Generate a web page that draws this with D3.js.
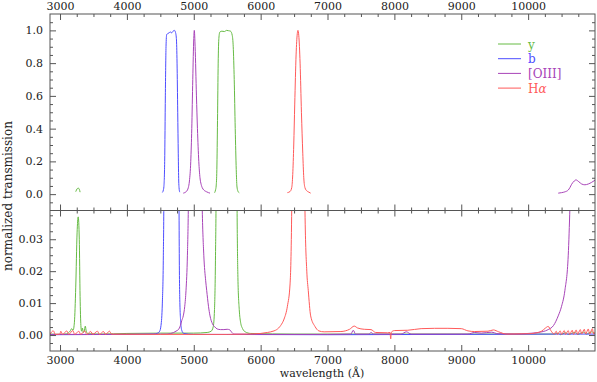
<!DOCTYPE html>
<html>
<head>
<meta charset="utf-8">
<script src="https://cdn.jsdelivr.net/npm/d3@7"></script>
<style>
body { margin: 0; background: #fff; }
text { font-family: "DejaVu Serif", serif; fill: #222; }
</style>
</head>
<body>
<svg width="597" height="382"></svg>
<script>
// filter curves, [wavelength (A), normalized transmission]
var filterNames = ["y", "b", "[OIII]", "Hα"];
var filterColors = ["#66bb44", "#4d4dff", "#a844b8", "#ff5a5a"];

var yFilter = [[2850,0.0003],[3000,0.0002],[3100,0.0004],[3150,0.0012],[3175,0.002],[3195,0.0015],
  [3215,0.004],[3235,0.015],[3255,0.032],[3272,0.037],[3288,0.03],[3300,0.012],[3312,0.003],
  [3322,0.0012],[3335,0.0022],[3348,0.0008],[3362,0.0012],[3378,0.0028],[3392,0.0012],[3420,0.0004],
  [3600,0.0003],[4000,0.0005],[4500,0.0006],[5000,0.0006],[5200,0.0008],[5260,0.0012],[5290,0.0025],
  [5310,0.008],[5325,0.025],[5335,0.05],[5345,0.15],[5355,0.45],[5365,0.8],[5375,0.95],[5390,0.99],
  [5420,0.995],[5460,0.993],[5490,1.0],[5520,0.998],[5550,0.995],[5575,0.97],[5590,0.9],[5605,0.7],
  [5620,0.4],[5635,0.15],[5645,0.05],[5660,0.018],[5680,0.008],[5700,0.004],[5730,0.002],[5770,0.001],
  [5850,0.0005],[6500,0.0003],[8000,0.0003],[9500,0.0003],[10400,0.0003],[10450,0.0006],[10480,0.0001],
  [10560,0.0007],[10600,0.0002],[10700,0.0008],[10740,0.0002],[10830,0.0009],[10870,0.0003],
  [10950,0.001],[11000,0.0004]];

var bFilter = [[2850,0.0001],[4000,0.0002],[4400,0.0003],[4460,0.0006],[4490,0.0012],[4510,0.003],
  [4530,0.01],[4545,0.025],[4553,0.045],[4565,0.2],[4575,0.6],[4585,0.9],[4595,0.975],[4610,0.98],
  [4630,0.985],[4650,0.99],[4670,0.985],[4690,0.995],[4710,1.0],[4725,0.99],[4740,0.95],[4750,0.8],
  [4760,0.5],[4768,0.25],[4775,0.08],[4780,0.039],[4790,0.012],[4805,0.004],[4820,0.0015],[4850,0.0005],
  [5000,0.0002],[7000,0.0001],[9000,0.0002],[10500,0.0003],[11000,0.0003]];

var oiiiFilter = [[2850,0.0002],[4000,0.0002],[4600,0.0003],[4700,0.0008],[4750,0.0014],[4770,0.0017],
  [4800,0.003],[4820,0.0045],[4843,0.006],[4865,0.009],[4884,0.014],[4905,0.025],[4918,0.039],
  [4935,0.08],[4955,0.2],[4970,0.4],[4985,0.7],[5000,0.95],[5008,1.0],[5020,0.9],[5040,0.6],[5055,0.4],
  [5075,0.2],[5093,0.1],[5110,0.06],[5127,0.039],[5150,0.025],[5178,0.017],[5193,0.014],[5220,0.009],
  [5243,0.006],[5280,0.0035],[5317,0.0025],[5350,0.0019],[5400,0.0017],[5450,0.0017],[5500,0.0018],
  [5540,0.0016],[5570,0.0008],[5600,0.0003],[6000,0.0002],[7000,0.0002],[7350,0.0003],[7385,0.0015],
  [7420,0.0003],[7620,0.0003],[7650,0.0008],[7690,0.0003],[8100,0.0003],[8180,0.001],[8250,0.0003],
  [9100,0.0003],[9200,0.0008],[9300,0.0006],[9450,0.0009],[9550,0.0004],[9800,0.0003],[10000,0.0005],
  [10150,0.0008],[10300,0.0017],[10380,0.003],[10450,0.006],[10500,0.009],[10550,0.014],[10600,0.025],
  [10625,0.04],[10650,0.06],[10690,0.08],[10714,0.087],[10760,0.075],[10800,0.062],[10849,0.057],
  [10900,0.062],[10950,0.072],[11000,0.085]];

var haFilter = [[2850,0.0003],[2900,0.0013],[2930,0.0002],[3000,0.0003],[3010,0.0012],[3040,0.0002],
  [3100,0.0013],[3130,0.0002],[3190,0.0014],[3220,0.0002],[3280,0.0012],[3310,0.0002],[3370,0.0013],
  [3400,0.0002],[3460,0.0011],[3490,0.0002],[3560,0.0012],[3590,0.0002],[3650,0.0011],[3680,0.0002],
  [3740,0.0012],[3770,0.0003],[4500,0.0002],[5500,0.0002],[5800,0.0003],[6000,0.0005],[6100,0.0008],
  [6200,0.0013],[6240,0.0017],[6300,0.003],[6350,0.005],[6400,0.009],[6440,0.016],[6465,0.04],
  [6480,0.12],[6495,0.3],[6510,0.55],[6530,0.85],[6548,0.98],[6558,1.0],[6570,0.97],[6590,0.8],
  [6610,0.5],[6630,0.25],[6645,0.1],[6663,0.039],[6690,0.02],[6712,0.014],[6748,0.006],[6812,0.0027],
  [6870,0.0013],[6950,0.001],[7200,0.0011],[7330,0.0018],[7400,0.0028],[7450,0.0022],[7550,0.0018],
  [7650,0.0017],[7720,0.0008],[7900,0.0007],[7935,0.0008],[7945,-0.0012],[7955,0.0009],[8000,0.0014],
  [8200,0.0015],[8400,0.002],[8600,0.0021],[8800,0.0021],[9000,0.002],[9100,0.0013],[9200,0.0011],
  [9400,0.0012],[9480,0.0016],[9560,0.001],[9680,0.0003],[10000,0.0004],[10100,0.0006],[10200,0.0012],
  [10260,0.0022],[10300,0.0027],[10340,0.0014],[10390,0.0003],[10420,0.0012],[10440,0.0002],
  [10480,0.0013],[10500,0.0002],[10540,0.0014],[10560,0.0002],[10600,0.0014],[10620,0.0002],
  [10660,0.0015],[10680,0.0002],[10720,0.0016],[10740,0.0002],[10780,0.0017],[10800,0.0003],
  [10840,0.0018],[10860,0.0003],[10900,0.0019],[10920,0.0003],[10960,0.002],[10980,0.0003],[11000,0.001]];

var series = [yFilter, bFilter, oiiiFilter, haFilter];

var xMajor = [3000, 4000, 5000, 6000, 7000, 8000, 9000, 10000];
var topMajor = [0, 0.2, 0.4, 0.6, 0.8, 1.0];
var botMajor = [0, 0.01, 0.02, 0.03];

var svg = d3.select("svg");
var pLeft = 50, pRight = 595, pTop = 14, pMid = 210.5, pBottom = 351;

var x = d3.scaleLinear().domain([2850, 11000]).range([pLeft, pRight]);
var yTop = d3.scaleLinear().domain([-0.1, 1.1]).range([pMid, pTop]);
var yBot = d3.scaleLinear().domain([-0.005, 0.039]).range([pBottom, pMid]);

var xMinor = d3.range(3000, 11001, 250).filter(function(v) { return v % 1000 != 0; });
var topMinor = d3.range(-0.05, 1.1, 0.05).filter(function(v) { return Math.abs(v * 5 - Math.round(v * 5)) > 1e-6; });
var botMinor = d3.range(-0.0025, 0.039, 0.0025).filter(function(v) { return Math.abs(v * 100 - Math.round(v * 100)) > 1e-6; });

// clip regions
var defs = svg.append("defs");
defs.append("clipPath").attr("id", "clipTop").append("rect")
    .attr("x", pLeft).attr("y", pTop).attr("width", pRight - pLeft).attr("height", pMid - pTop);
defs.append("clipPath").attr("id", "clipBot").append("rect")
    .attr("x", pLeft).attr("y", pMid).attr("width", pRight - pLeft).attr("height", pBottom - pMid);

// curves, the top panel only shows the parts above the noise
var thr = 0.005;
var lineTop = d3.line()
    .defined(function(d) { return d[1] > thr; })
    .x(function(d) { return x(d[0]); })
    .y(function(d) { return yTop(d[1]); })
    .curve(d3.curveMonotoneX);
var lineBot = d3.line()
    .x(function(d) { return x(d[0]); })
    .y(function(d) { return yBot(d[1]); })
    .curve(d3.curveMonotoneX);

var gTop = svg.append("g").attr("clip-path", "url(#clipTop)");
var gBot = svg.append("g").attr("clip-path", "url(#clipBot)");
series.forEach(function(s, i) {
    gTop.append("path").attr("d", lineTop(s))
        .attr("fill", "none").attr("stroke", filterColors[i]).attr("stroke-width", 1);
    gBot.append("path").attr("d", lineBot(s))
        .attr("fill", "none").attr("stroke", filterColors[i]).attr("stroke-width", 1);
});

// axes
function ax(axisFn, scale, vals, size, pad, fmt) {
    return axisFn(scale).tickValues(vals).tickSizeInner(size).tickSizeOuter(0)
        .tickPadding(pad).tickFormat(fmt || "");
}
function put(a, tx, ty) {
    var g = svg.append("g").attr("transform", "translate(" + tx + "," + ty + ")").call(a);
    g.select(".domain").remove();
    g.selectAll("line").attr("stroke", "#555");
    g.selectAll("text").attr("fill", "#222").style("font-family", "DejaVu Serif, serif").style("font-size", "11px");
    return g;
}
var fx = d3.format("d");
// top edge with labels
put(ax(d3.axisTop, x, xMajor, -6, 4, fx), 0, pTop);
put(ax(d3.axisTop, x, xMinor, -3, 4), 0, pTop);
// shared middle edge, ticks into both panels
put(ax(d3.axisBottom, x, xMajor, -6, 4), 0, pMid);
put(ax(d3.axisBottom, x, xMinor, -3, 4), 0, pMid);
put(ax(d3.axisTop, x, xMajor, -6, 4), 0, pMid);
put(ax(d3.axisTop, x, xMinor, -3, 4), 0, pMid);
// bottom edge with labels
put(ax(d3.axisBottom, x, xMajor, -6, 5, fx), 0, pBottom);
put(ax(d3.axisBottom, x, xMinor, -3, 5), 0, pBottom);
// left / right, top panel
put(ax(d3.axisLeft, yTop, topMajor, -6, 7, d3.format(".1f")), pLeft, 0);
put(ax(d3.axisLeft, yTop, topMinor, -3, 7), pLeft, 0);
put(ax(d3.axisRight, yTop, topMajor, -6, 7), pRight, 0);
put(ax(d3.axisRight, yTop, topMinor, -3, 7), pRight, 0);
// left / right, bottom panel
put(ax(d3.axisLeft, yBot, botMajor, -6, 7, d3.format(".2f")), pLeft, 0);
put(ax(d3.axisLeft, yBot, botMinor, -3, 7), pLeft, 0);
put(ax(d3.axisRight, yBot, botMajor, -6, 7), pRight, 0);
put(ax(d3.axisRight, yBot, botMinor, -3, 7), pRight, 0);

// frames
svg.append("rect").attr("x", pLeft).attr("y", pTop).attr("width", pRight - pLeft).attr("height", pBottom - pTop)
    .attr("fill", "none").attr("stroke", "#555").attr("stroke-width", 1);
svg.append("line").attr("x1", pLeft).attr("x2", pRight).attr("y1", pMid).attr("y2", pMid)
    .attr("stroke", "#555").attr("stroke-width", 1);

// axis titles
svg.append("text").attr("x", 322).attr("y", 377).attr("text-anchor", "middle")
    .style("font-size", "11px").text("wavelength (Å)");
svg.append("text").attr("transform", "translate(12,196) rotate(-90)").attr("text-anchor", "middle")
    .style("font-size", "12px").text("normalized transmission");

// legend
var leg = svg.append("g");
filterNames.forEach(function(n, i) {
    var ly = 44 + i * 14.7;
    leg.append("line").attr("x1", 498).attr("x2", 521).attr("y1", ly).attr("y2", ly)
        .attr("stroke", filterColors[i]).attr("stroke-width", 1);
    var t = leg.append("text").attr("x", 528).attr("y", ly + 4.5)
        .style("font-size", "12px").style("fill", filterColors[i]);
    if (n == "Hα") {
        t.append("tspan").text("H");
        t.append("tspan").style("font-style", "italic").text("α");
    } else {
        t.text(n);
    }
});
</script>
</body>
</html>
